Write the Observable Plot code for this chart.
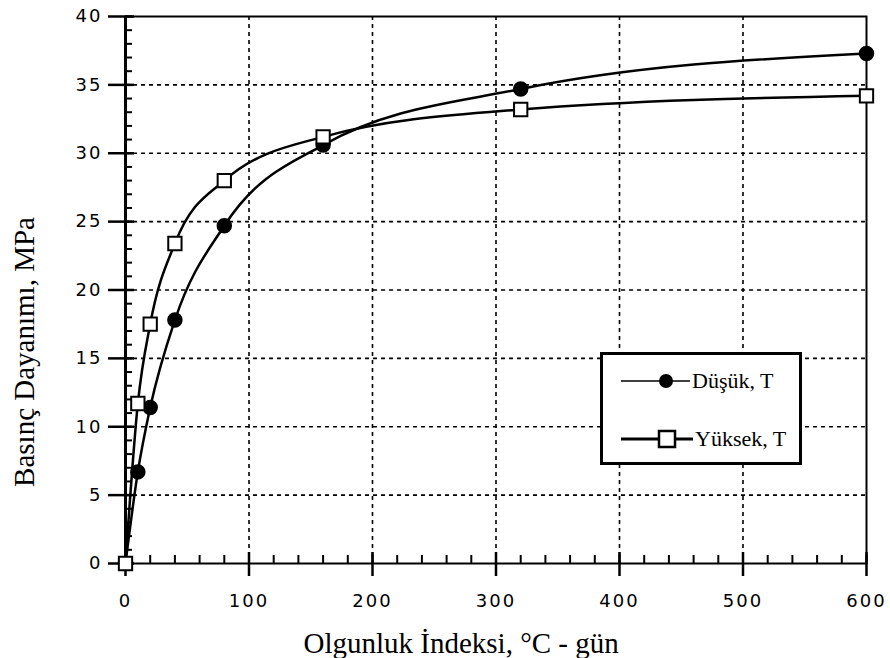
<!DOCTYPE html>
<html>
<head>
<meta charset="utf-8">
<script src="https://cdn.jsdelivr.net/npm/d3@7"></script>
<script src="https://cdn.jsdelivr.net/npm/@observablehq/plot@0.6"></script>
<style>
  html, body { margin: 0; padding: 0; background: #fff; }
  #wrap { position: relative; width: 890px; height: 658px; background: #fff; }
  #legend { position: absolute; left: 600px; top: 352px; }
</style>
</head>
<body>
<div id="wrap"></div>
<script>
// ---- data ----
const maturity = [0, 10, 20, 40, 80, 160, 320, 600];
const dusuk    = [0, 6.7, 11.4, 17.8, 24.7, 30.6, 34.7, 37.3];
const yuksek   = [0, 11.7, 17.5, 23.4, 28.0, 31.2, 33.2, 34.2];
const seriesNames = ["Düşük, T", "Yüksek, T"];
const xTicks = [0, 100, 200, 300, 400, 500, 600];
const yTicks = [0, 5, 10, 15, 20, 25, 30, 35, 40];
const xGrid = [100, 200, 300, 400, 500];
const yGrid = [5, 10, 15, 20, 25, 30, 35];
const xMinor = d3.range(0, 601, 20);
const yMinor = d3.range(0, 41, 1);
const xTitle = "Olgunluk İndeksi, °C - gün";
const yTitle = "Basınç Dayanımı, MPa";

const low = maturity.map((x, i) => ({x, y: dusuk[i]}));
const high = maturity.map((x, i) => ({x, y: yuksek[i]}));

const W = 890, H = 658, mL = 125, mR = 24, mT = 16, mB = 95;
const innerW = W - mL - mR, innerH = H - mT - mB;
const xMax = 600, yMax = 40;
// tick lengths in pixels converted to data units
const pxX = xMax / innerW, pxY = yMax / innerH;

const plot = Plot.plot({
  width: W,
  height: H,
  marginLeft: mL,
  marginRight: mR,
  marginTop: mT,
  marginBottom: mB,
  x: {domain: [0, xMax], label: null},
  y: {domain: [0, yMax], label: null},
  marks: [
    Plot.frame({stroke: "#000", strokeWidth: 2}),
    // dashed grid
    Plot.gridX(xGrid, {stroke: "#000", strokeOpacity: 1, strokeWidth: 1.6, strokeDasharray: "4,4"}),
    Plot.gridY(yGrid, {stroke: "#000", strokeOpacity: 1, strokeWidth: 1.6, strokeDasharray: "4,4"}),
    // inward ticks (minor and major) as short rules
    Plot.ruleX(xMinor, {x: d => d, y1: 0, y2: 8 * pxY, stroke: "#000", strokeWidth: 2}),
    Plot.ruleX(xTicks, {x: d => d, y1: 0, y2: 11 * pxY, stroke: "#000", strokeWidth: 2.5}),
    Plot.ruleY(yMinor, {y: d => d, x1: 0, x2: 7 * pxX, stroke: "#000", strokeWidth: 2}),
    Plot.ruleY(yTicks, {y: d => d, x1: 0, x2: 9 * pxX, stroke: "#000", strokeWidth: 2.5}),
    Plot.ruleX([0], {stroke: "#000", strokeWidth: 3}),
    // outward major ticks with labels
    Plot.axisX(xTicks, {tickSize: 13, tickPadding: 18, fontSize: 18, fontFamily: "DejaVu Sans", strokeWidth: 2.5, label: null}),
    Plot.axisY(yTicks, {tickSize: 17, tickPadding: 6, fontSize: 18, fontFamily: "DejaVu Sans", strokeWidth: 2.5, label: null}),
    // series
    Plot.line(low, {x: "x", y: "y", curve: "monotone-x", stroke: "#000", strokeWidth: 2.5}),
    Plot.line(high, {x: "x", y: "y", curve: "monotone-x", stroke: "#000", strokeWidth: 2.5}),
    Plot.dot(low, {x: "x", y: "y", r: 7, fill: "#000", stroke: "#000"}),
    Plot.dot(high, {x: "x", y: "y", symbol: "square", r: 7.5, fill: "#fff", stroke: "#000", strokeWidth: 2}),
    // axis titles
    Plot.text([xTitle], {frameAnchor: "bottom-left", textAnchor: "start", lineAnchor: "bottom", dx: 178, dy: 89, fontSize: 29, fontFamily: "Liberation Serif", fill: "#000"}),
    Plot.text([yTitle], {frameAnchor: "left", rotate: -90, textAnchor: "middle", lineAnchor: "middle", dx: -101, dy: 62, fontSize: 29, fontFamily: "Liberation Serif", fill: "#000"})
  ]
});
plot.querySelectorAll('g[aria-label$="tick label"] text').forEach(t => t.setAttribute("letter-spacing", "2"));
document.getElementById("wrap").appendChild(plot);

// legend box
const leg = d3.select("#wrap").append("svg")
  .attr("id", "legend").attr("width", 203).attr("height", 114);
leg.append("rect").attr("x", 1.5).attr("y", 1.5).attr("width", 199).attr("height", 110)
  .attr("fill", "#fff").attr("stroke", "#000").attr("stroke-width", 3);
leg.append("line").attr("x1", 21).attr("x2", 90).attr("y1", 29).attr("y2", 29).attr("stroke", "#000").attr("stroke-width", 1.5);
leg.append("circle").attr("cx", 66).attr("cy", 29).attr("r", 7).attr("fill", "#000");
leg.append("text").attr("x", 92).attr("y", 36).text(seriesNames[0])
  .attr("font-family", "Liberation Serif").attr("font-size", 22).attr("fill", "#000");
leg.append("line").attr("x1", 21).attr("x2", 93).attr("y1", 87).attr("y2", 87).attr("stroke", "#000").attr("stroke-width", 3);
leg.append("rect").attr("x", 59).attr("y", 79).attr("width", 16).attr("height", 16).attr("fill", "#fff").attr("stroke", "#000").attr("stroke-width", 2.5);
leg.append("text").attr("x", 95).attr("y", 94).text(seriesNames[1])
  .attr("font-family", "Liberation Serif").attr("font-size", 22).attr("fill", "#000");
</script>
</body>
</html>
